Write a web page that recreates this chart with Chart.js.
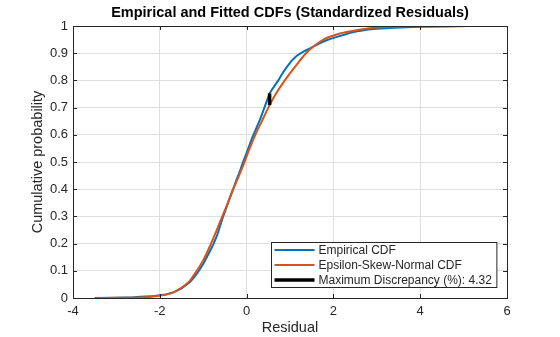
<!DOCTYPE html>
<html>
<head>
<meta charset="utf-8">
<script src="https://cdn.jsdelivr.net/npm/chart.js@4.4.0/dist/chart.umd.min.js"></script>
<style>
    html, body { margin: 0; padding: 0; background: #fff; }
</style>
</head>
<body>
<canvas id="cdfChart" width="560" height="337"></canvas>
<script>
// values
const empiricalX = [-3.5, -3.0, -2.6, -2.45, -2.2, -2.0, -1.85, -1.7, -1.6, -1.5, -1.4, -1.3, -1.2, -1.1, -1.0,
    -0.9, -0.82, -0.76, -0.68, -0.6, -0.55, -0.47, -0.4, -0.31, -0.22, -0.15, -0.1, -0.02, 0.05, 0.13,
    0.2, 0.31, 0.4, 0.46, 0.53, 0.6, 0.73, 0.81, 0.92, 1.04, 1.15, 1.25, 1.35, 1.46, 1.6,
    1.77, 1.9, 2.08, 2.25, 2.39, 2.6, 2.8, 3.0, 3.4, 4.0, 4.6, 5.1];
const empiricalY = [0, 0.001, 0.003, 0.005, 0.006, 0.01, 0.013, 0.02, 0.027, 0.035, 0.047, 0.06, 0.078, 0.1, 0.125,
    0.155, 0.18, 0.2, 0.23, 0.27, 0.295, 0.33, 0.362, 0.4, 0.44, 0.468, 0.492, 0.525, 0.555, 0.59,
    0.615, 0.657, 0.695, 0.722, 0.752, 0.77, 0.8, 0.822, 0.848, 0.873, 0.89, 0.9, 0.909, 0.918, 0.93,
    0.943, 0.951, 0.96, 0.968, 0.975, 0.982, 0.987, 0.99, 0.994, 0.997, 0.998, 1.0];

const fittedX = [-3.45, -3.0, -2.5, -2.2, -1.95, -1.7, -1.55, -1.4, -1.3, -1.15, -1.0, -0.82, -0.7, -0.56, -0.44,
    -0.31, -0.18, -0.06, 0.07, 0.2, 0.35, 0.53, 0.7, 0.88, 1.1, 1.37, 1.57, 1.77, 2.1, 2.37,
    2.75, 3.1, 3.8, 4.4, 5.07];
const fittedY = [0, 0.0005, 0.002, 0.005, 0.01, 0.02, 0.033, 0.05, 0.065, 0.1, 0.138, 0.2, 0.245, 0.3, 0.347,
    0.4, 0.448, 0.495, 0.55, 0.6, 0.65, 0.709, 0.757, 0.8, 0.847, 0.9, 0.928, 0.95, 0.97, 0.98,
    0.99, 0.995, 0.999, 1.0, 1.0];

const discrepancyX = [0.53, 0.53];
const discrepancyY = [0.709, 0.752];

const xTicks = [-4, -2, 0, 2, 4, 6];
const seriesLabels = ['Empirical CDF', 'Epsilon-Skew-Normal CDF', 'Maximum Discrepancy (%): 4.32'];
const chartTitle = 'Empirical and Fitted CDFs (Standardized Residuals)';

const FONT = '"Liberation Sans", Arial, Helvetica, sans-serif';
const AXIS_COLOR = '#262626';

function toPoints(xs, ys) {
    return xs.map(function (x, i) { return { x: x, y: ys[i] }; });
}

// axes box, inward ticks, title and legend in the MATLAB look
const matlabFrame = {
    id: 'matlabFrame',
    afterDraw: function (chart) {
        const ctx = chart.ctx;
        const a = chart.chartArea;
        const xs = chart.scales.x;
        const ys = chart.scales.y;
        ctx.save();
        ctx.strokeStyle = AXIS_COLOR;
        ctx.lineWidth = 1;
        ctx.strokeRect(Math.round(a.left) + 0.5, Math.round(a.top) + 0.5,
            Math.round(a.right - a.left), Math.round(a.bottom - a.top));

        const tl = 4;
        ctx.beginPath();
        xTicks.forEach(function (v) {
            const px = Math.round(xs.getPixelForValue(v)) + 0.5;
            ctx.moveTo(px, a.bottom); ctx.lineTo(px, a.bottom - tl);
            ctx.moveTo(px, a.top); ctx.lineTo(px, a.top + tl);
        });
        ys.ticks.forEach(function (t) {
            const py = Math.round(ys.getPixelForValue(t.value)) + 0.5;
            ctx.moveTo(a.left, py); ctx.lineTo(a.left + tl, py);
            ctx.moveTo(a.right, py); ctx.lineTo(a.right - tl, py);
        });
        ctx.stroke();

        // title
        ctx.fillStyle = '#000';
        ctx.font = 'bold 14.5px ' + FONT;
        ctx.textAlign = 'center';
        ctx.textBaseline = 'middle';
        ctx.fillText(chartTitle, (a.left + a.right) / 2, 13);

        // legend
        ctx.font = '12px ' + FONT;
        let textW = 0;
        chart.data.datasets.forEach(function (ds) {
            textW = Math.max(textW, ctx.measureText(ds.label).width);
        });
        const rowH = 15;
        const boxW = 4 + 39 + 4 + textW + 5;
        const boxH = rowH * chart.data.datasets.length;
        const bx = Math.round(a.right - 11 - boxW) + 0.5;
        const by = Math.round(a.bottom - 11 - boxH) + 0.5;
        ctx.fillStyle = '#fff';
        ctx.fillRect(bx, by, boxW, boxH);
        ctx.strokeStyle = AXIS_COLOR;
        ctx.lineWidth = 1;
        ctx.strokeRect(bx, by, boxW, boxH);
        ctx.textAlign = 'left';
        chart.data.datasets.forEach(function (ds, i) {
            const cy = by + 7.5 + i * rowH;
            ctx.strokeStyle = ds.borderColor;
            ctx.lineWidth = ds.borderWidth;
            ctx.beginPath();
            ctx.moveTo(bx + 3, cy);
            ctx.lineTo(bx + 43, cy);
            ctx.stroke();
            ctx.fillStyle = AXIS_COLOR;
            ctx.fillText(ds.label, bx + 47, cy + 1);
        });
        ctx.restore();
    }
};

document.addEventListener('DOMContentLoaded', function () {

    const ctx = document.getElementById('cdfChart').getContext('2d');
    const cdfChart = new Chart(ctx, {
        type: 'line',
        data: {
            datasets: [{
                label: seriesLabels[0],
                data: toPoints(empiricalX, empiricalY),
                borderColor: '#0072BD',
                borderWidth: 2,
                pointRadius: 0,
                tension: 0,
                order: 2
            }, {
                label: seriesLabels[1],
                data: toPoints(fittedX, fittedY),
                borderColor: '#D95319',
                borderWidth: 2,
                pointRadius: 0,
                cubicInterpolationMode: 'monotone',
                order: 1
            }, {
                label: seriesLabels[2],
                data: toPoints(discrepancyX, discrepancyY),
                borderColor: '#000000',
                borderWidth: 3.5,
                pointRadius: 0,
                order: 0
            }]
        },
        options: {
            responsive: false,
            animation: false,
            layout: {
                padding: { left: 0, top: 26, right: 53, bottom: 0 }
            },
            plugins: {
                legend: { display: false },
                title: { display: false },
                tooltip: { enabled: false }
            },
            scales: {
                x: {
                    type: 'linear',
                    min: -4,
                    max: 6,
                    afterBuildTicks: function (scale) {
                        scale.ticks = xTicks.map(function (v) { return { value: v }; });
                    },
                    afterFit: function (scale) { scale.height = 39; },
                    grid: { color: '#dfdfdf', drawTicks: false },
                    border: { display: false },
                    ticks: {
                        padding: 6,
                        color: AXIS_COLOR,
                        font: { family: FONT, size: 13 }
                    },
                    title: {
                        display: true,
                        text: 'Residual',
                        color: AXIS_COLOR,
                        font: { family: FONT, size: 14.5 },
                        padding: { top: 0, bottom: 0 }
                    }
                },
                y: {
                    min: 0,
                    max: 1,
                    afterFit: function (scale) { scale.width = 73; },
                    grid: { color: '#dfdfdf', drawTicks: false },
                    border: { display: false },
                    ticks: {
                        stepSize: 0.1,
                        padding: 5,
                        color: AXIS_COLOR,
                        font: { family: FONT, size: 13 },
                        callback: function (v) { return String(Math.round(v * 10) / 10); }
                    },
                    title: {
                        display: true,
                        text: 'Cumulative probability',
                        color: AXIS_COLOR,
                        font: { family: FONT, size: 14.5 },
                        padding: { top: 29, bottom: 0 }
                    }
                }
            }
        },
        plugins: [matlabFrame]
    });

});
</script>
</body>
</html>
